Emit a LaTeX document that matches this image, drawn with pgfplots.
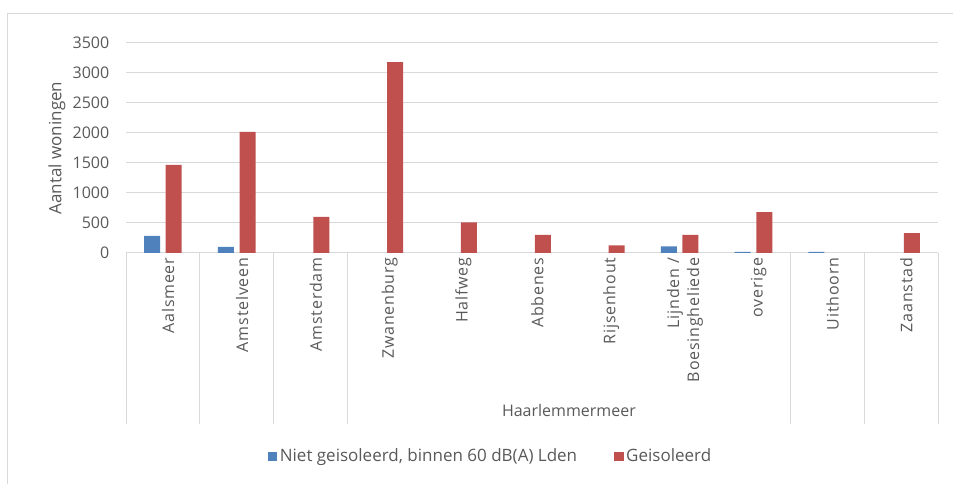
\documentclass[border=0pt]{standalone}
\usepackage{fontspec}
\setmainfont{Open Sans}
\usepackage{pgfplots}
\pgfplotsset{compat=1.18}
\definecolor{cblue}{HTML}{4F81BD}
\definecolor{cred}{HTML}{C0504D}
\definecolor{cgrid}{HTML}{D9D9D9}
\definecolor{ctext}{HTML}{595959}
\newcommand{\chartfont}{\fontsize{12}{14}\selectfont}
\newcommand{\labelfont}{\fontsize{12.75}{15}\selectfont}
\newcommand{\catfont}{\fontsize{12}{15}\selectfont\addfontfeature{LetterSpace=5}}
\begin{document}
\begin{tikzpicture}
\useasboundingbox (0pt,0pt) rectangle (714.75pt,363pt);
% chart frame (only left and top edge are in view)
\draw[cgrid, line width=0.75pt] (5.25pt,0pt) -- (5.25pt,352.5pt) -- (714.75pt,352.5pt);
\begin{axis}[
    at={(94.5pt,173.25pt)}, anchor=south west,
    scale only axis,
    width=609pt, height=157.5pt,
    xmin=-0.5, xmax=10.5,
    ymin=0, ymax=3500,
    ytick={0,500,...,3500},
    xtick={0,...,10},
    xticklabels={Aalsmeer,Amstelveen,Amsterdam,Zwanenburg,Halfweg,Abbenes,Rijsenhout,{Lijnden /\\Boesingheliede},overige,Uithoorn,Zaanstad},
    major tick length=0pt,
    axis x line*=bottom, axis y line*=left,
    x axis line style={draw=cgrid, line width=0.75pt},
    y axis line style={draw=none},
    ymajorgrids, grid style={draw=cgrid, line width=0.75pt},
    /pgf/number format/1000 sep={},
    /pgf/number format/assume math mode=true,
    every tick label/.append style={font=\chartfont, text=ctext},
    yticklabel style={anchor=east, xshift=-9pt},
    xticklabel style={rotate=90, anchor=east, align=right, yshift=-4pt, font=\catfont},
    ylabel={Aantal woningen},
    ylabel style={at={(axis description cs:-0.085,0.5)}, anchor=center, font=\labelfont, text=ctext},
    legend style={at={(axis description cs:0.4495,-0.967)}, anchor=center, draw=none, fill=none,
        legend columns=2, font=\labelfont, text=ctext,
        /tikz/every even column/.append style={column sep=26pt}},
    legend image code/.code={\fill[#1] (0pt,-3.4pt) rectangle (6.8pt,3.4pt);},
    clip=false,
]
\addplot[ybar, bar width=12pt, bar shift=-8.1pt, fill=cblue, draw=none]
    coordinates {(0,285) (1,100) (7,110) (8,20) (9,20)};
\addplot[ybar, bar width=12pt, bar shift=8.1pt, fill=cred, draw=none]
    coordinates {(0,1470) (1,2020) (2,600) (3,3180) (4,510) (5,300) (6,125) (7,300) (8,680) (10,330)};
\legend{{Niet geisoleerd, binnen 60 dB(A) Lden}, Geisoleerd}
% category separators
\pgfplotsinvokeforeach{-0.5,0.5,1.5,2.5,8.5,9.5,10.5}{
    \draw[cgrid, line width=0.75pt] (axis cs:#1,0) -- ++(0pt,-128.25pt);
}
\node[font=\chartfont, text=ctext, yshift=-118.5pt] at (axis cs:5.5,0) {Haarlemmermeer};
\end{axis}
\end{tikzpicture}
\end{document}
